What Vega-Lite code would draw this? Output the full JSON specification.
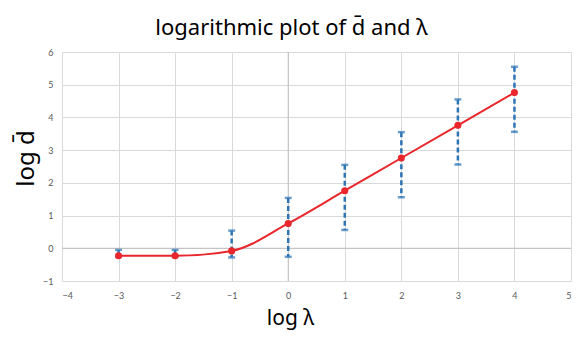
{
  "$schema": "https://vega.github.io/schema/vega-lite/v6.json",
  "width": 509,
  "height": 229,
  "autosize": {"type": "none"},
  "padding": {"left": 62, "top": 52, "right": 17, "bottom": 65},
  "background": "white",
  "title": {
    "text": "logarithmic plot of d̄ and λ",
    "font": "Noto Sans",
    "fontSize": 22,
    "fontWeight": "normal",
    "color": "#000000",
    "anchor": "middle",
    "dx": -25,
    "offset": 8
  },
  "config": {
    "view": {"stroke": null},
    "axis": {
      "gridColor": "#d9d9d9",
      "gridWidth": 1,
      "domain": false,
      "ticks": false,
      "labelColor": "#595959",
      "labelFontSize": 9,
      "labelFont": "Lato",
      "labelOverlap": false,
      "format": "d",
      "titleFont": "Noto Sans",
      "titleFontWeight": "normal",
      "titleColor": "#000000"
    }
  },
  "datasets": {
    "pts": [
      {"x": -3, "y": -0.23, "upper": -0.05, "lower": -0.25},
      {"x": -2, "y": -0.23, "upper": -0.05, "lower": -0.25},
      {"x": -1, "y": -0.08, "upper": 0.54, "lower": -0.28},
      {"x": 0, "y": 0.76, "upper": 1.54, "lower": -0.26},
      {"x": 1, "y": 1.76, "upper": 2.55, "lower": 0.56},
      {"x": 2, "y": 2.76, "upper": 3.55, "lower": 1.56},
      {"x": 3, "y": 3.76, "upper": 4.55, "lower": 2.56},
      {"x": 4, "y": 4.76, "upper": 5.55, "lower": 3.56}
    ],
    "zx": [{"x": 0}],
    "zy": [{"y": 0}]
  },
  "layer": [
    {
      "data": {"name": "zx"},
      "mark": {"type": "rule", "color": "#bfbfbf", "strokeWidth": 1},
      "encoding": {
        "x": {
          "field": "x", "type": "quantitative",
          "scale": {"domain": [-4, 5], "nice": false, "zero": false},
          "axis": {
            "values": [-4, -3, -2, -1, 0, 1, 2, 3, 4, 5],
            "tickCount": 10,
            "format": "d",
            "labelOverlap": false,
            "labelPadding": 10,
            "title": "log λ",
            "titleFontSize": 21,
            "titleX": 228,
            "titleY": 37,
            "titleBaseline": "middle",
            "titleAlign": "center"
          }
        }
      }
    },
    {
      "data": {"name": "zy"},
      "mark": {"type": "rule", "color": "#bfbfbf", "strokeWidth": 1},
      "encoding": {
        "y": {
          "field": "y", "type": "quantitative",
          "scale": {"domain": [-1, 6], "nice": false, "zero": false},
          "axis": {
            "values": [-1, 0, 1, 2, 3, 4, 5, 6],
            "tickCount": 8,
            "format": "d",
            "labelOverlap": false,
            "labelPadding": 9,
            "title": "log d̄",
            "titleFontSize": 24,
            "titleAngle": -90,
            "titleX": -36,
            "titleY": 106,
            "titleBaseline": "middle",
            "titleAlign": "center"
          }
        }
      }
    },
    {
      "data": {"name": "pts"},
      "mark": {"type": "rule", "color": "#2e75b6", "strokeWidth": 2.5, "strokeDash": [5, 3]},
      "encoding": {
        "x": {"field": "x", "type": "quantitative"},
        "y": {"field": "upper", "type": "quantitative"},
        "y2": {"field": "lower"}
      }
    },
    {
      "data": {"name": "pts"},
      "mark": {"type": "tick", "orient": "horizontal", "color": "#2e75b6", "size": 7, "thickness": 2.5},
      "encoding": {
        "x": {"field": "x", "type": "quantitative"},
        "y": {"field": "upper", "type": "quantitative"}
      }
    },
    {
      "data": {"name": "pts"},
      "mark": {"type": "tick", "orient": "horizontal", "color": "#2e75b6", "size": 7, "thickness": 2.5},
      "encoding": {
        "x": {"field": "x", "type": "quantitative"},
        "y": {"field": "lower", "type": "quantitative"}
      }
    },
    {
      "data": {"name": "pts"},
      "mark": {"type": "line", "color": "#e8262b", "strokeWidth": 2, "interpolate": "monotone"},
      "encoding": {
        "x": {"field": "x", "type": "quantitative"},
        "y": {"field": "y", "type": "quantitative"}
      }
    },
    {
      "data": {"name": "pts"},
      "mark": {"type": "circle", "color": "#e8262b", "size": 50, "opacity": 1},
      "encoding": {
        "x": {"field": "x", "type": "quantitative"},
        "y": {"field": "y", "type": "quantitative"}
      }
    }
  ]
}
